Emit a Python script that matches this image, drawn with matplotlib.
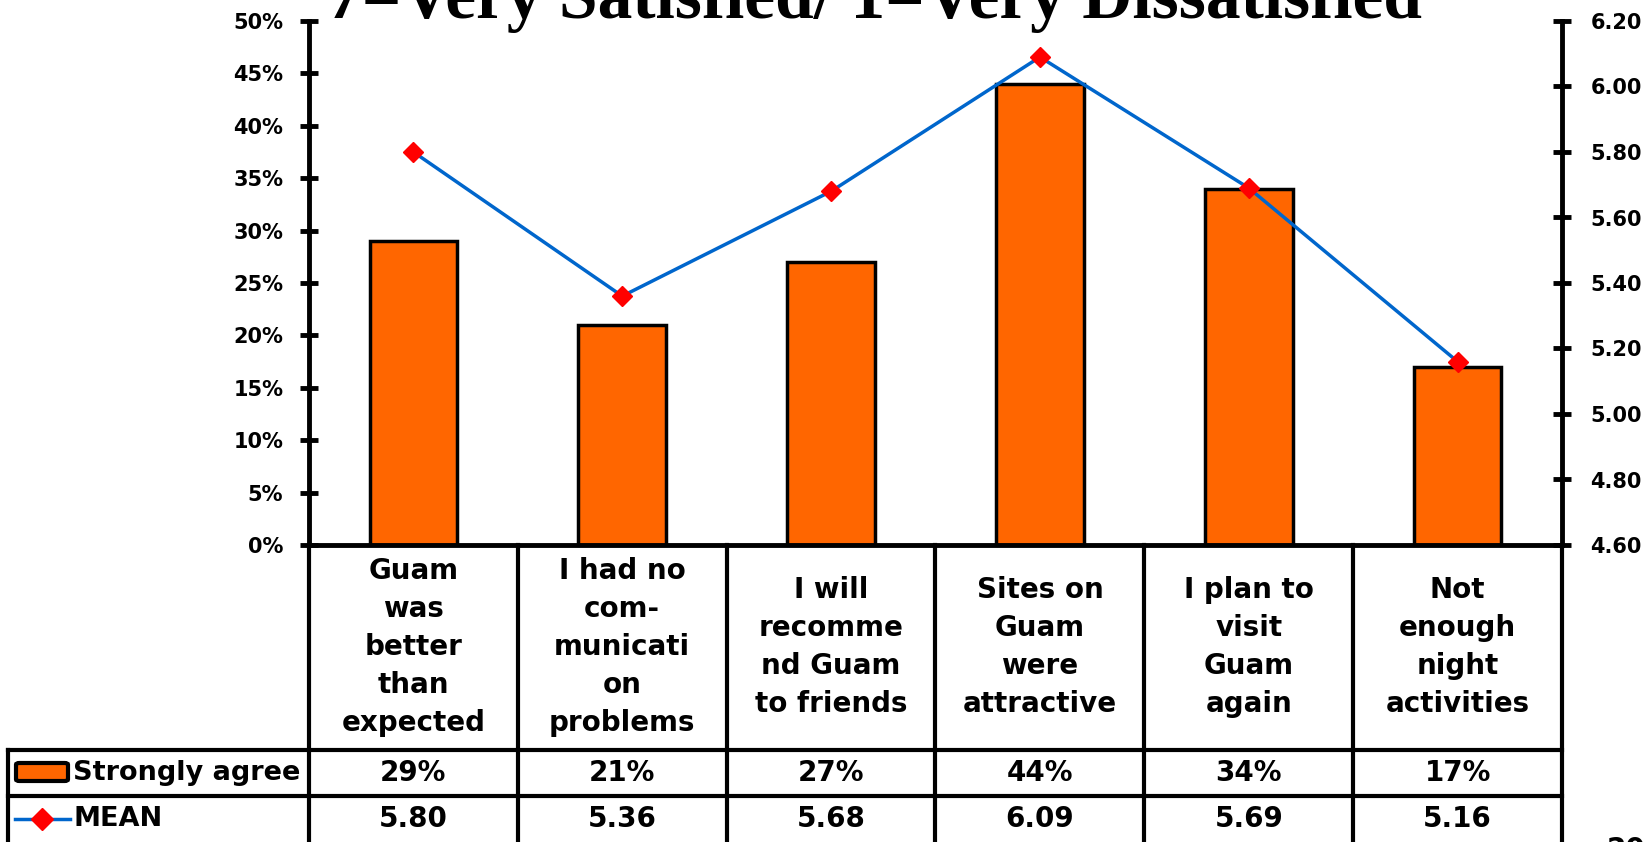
import matplotlib
matplotlib.use("Agg")
import matplotlib.pyplot as plt
from matplotlib.lines import Line2D
from matplotlib.patches import FancyBboxPatch
from matplotlib.transforms import blended_transform_factory

# 데이터
categories = ["Guam\nwas\nbetter\nthan\nexpected",
              "I had no\ncom-\nmunicati\non\nproblems",
              "I will\nrecomme\nnd Guam\nto friends",
              "Sites on\nGuam\nwere\nattractive",
              "I plan to\nvisit\nGuam\nagain",
              "Not\nenough\nnight\nactivities"]
strongly_agree = [29, 21, 27, 44, 34, 17]
mean_score = [5.80, 5.36, 5.68, 6.09, 5.69, 5.16]
pct_ticks = [0, 5, 10, 15, 20, 25, 30, 35, 40, 45, 50]
mean_ticks = [4.60, 4.80, 5.00, 5.20, 5.40, 5.60, 5.80, 6.00, 6.20]
title = "7=Very Satisfied/ 1=Very Dissatisfied"
page_no = "20"

ORANGE = "#FF6600"
BLUE = "#0066CC"
RED = "#FF0000"
FONT = "DejaVu Sans"
W, H = 1649, 842


def fx(px):
    return px / W


def fy(py):
    return 1 - py / H


fig = plt.figure(figsize=(W / 100, H / 100), dpi=100)
ax = fig.add_axes([fx(309), fy(545), fx(1562) - fx(309), fy(21) - fy(545)])
ax2 = ax.twinx()

x = list(range(len(categories)))
ax.bar(x, strongly_agree, width=0.42, color=ORANGE, edgecolor="black", linewidth=2.5, zorder=2)
ax2.plot(x, mean_score, color=BLUE, lw=2.5, marker="D", ms=10, mfc=RED, mec=RED, zorder=3)

ax.set_xlim(-0.5, len(categories) - 0.5)
ax.set_ylim(0, 50)
ax2.set_ylim(4.6, 6.2)
ax.set_xticks([])
ax.set_yticks(pct_ticks)
ax.set_yticklabels([f"{t}%" for t in pct_ticks])
ax2.set_yticks(mean_ticks)
ax2.set_yticklabels([f"{t:.2f}" for t in mean_ticks])

for a in (ax, ax2):
    a.spines["top"].set_visible(False)
    for s in a.spines.values():
        s.set_linewidth(3.5)
ax.spines["right"].set_visible(False)
ax2.spines["left"].set_visible(False)
ax2.spines["bottom"].set_visible(False)
ax.tick_params(axis="y", direction="inout", length=13, width=3.5, pad=12)
ax2.tick_params(axis="y", direction="inout", length=13, width=3.5, pad=14)
for lab in ax.get_yticklabels() + ax2.get_yticklabels():
    lab.set_fontfamily(FONT)
    lab.set_fontweight("bold")
    lab.set_fontsize(15)

# 제목 (위쪽이 잘린 상태)
fig.text(fx(875), fy(18), title, ha="center", va="baseline", family="Liberation Serif",
         fontweight="bold", fontsize=50)

# 데이터 표
tr = blended_transform_factory(ax.transData, fig.transFigure)
lw_t = 3
for i in range(len(categories) + 1):
    fig.add_artist(Line2D([i - 0.5, i - 0.5], [fy(545), fy(846)], transform=tr, color="black", lw=lw_t))
for yy in (750, 796):
    fig.add_artist(Line2D([fx(8), fx(1562)], [fy(yy), fy(yy)], color="black", lw=lw_t))
fig.add_artist(Line2D([fx(8), fx(8)], [fy(750), fy(846)], color="black", lw=lw_t))

txt = dict(family=FONT, fontweight="bold", fontsize=20, ha="center", va="center")
for i, (c, v, m) in enumerate(zip(categories, strongly_agree, mean_score)):
    fig.text(i, fy(647), c, transform=tr, linespacing=1.45, **txt)
    fig.text(i, fy(773), f"{v}%", transform=tr, **txt)
    fig.text(i, fy(819), f"{m:.2f}", transform=tr, **txt)

# 범례 칸
fig.add_artist(FancyBboxPatch((fx(16), fy(781)), fx(68) - fx(16), fy(763) - fy(781),
                              boxstyle="round,pad=0,rounding_size=0.002",
                              transform=fig.transFigure, facecolor=ORANGE, edgecolor="black", lw=3))
fig.text(fx(73), fy(773), "Strongly agree", family=FONT, fontweight="bold", fontsize=19.5,
         ha="left", va="center")
fig.add_artist(Line2D([fx(15), fx(70)], [fy(819), fy(819)], color=BLUE, lw=2.5))
fig.add_artist(Line2D([fx(42)], [fy(819)], marker="D", ms=11, mfc=RED, mec=RED, ls="none"))
fig.text(fx(73), fy(819), "MEAN", family=FONT, fontweight="bold", fontsize=19.5, ha="left", va="center")

fig.text(fx(1607), fy(836), page_no, family=FONT, fontweight="bold", fontsize=20, ha="left", va="top")

fig.savefig("out.png", dpi=100)
